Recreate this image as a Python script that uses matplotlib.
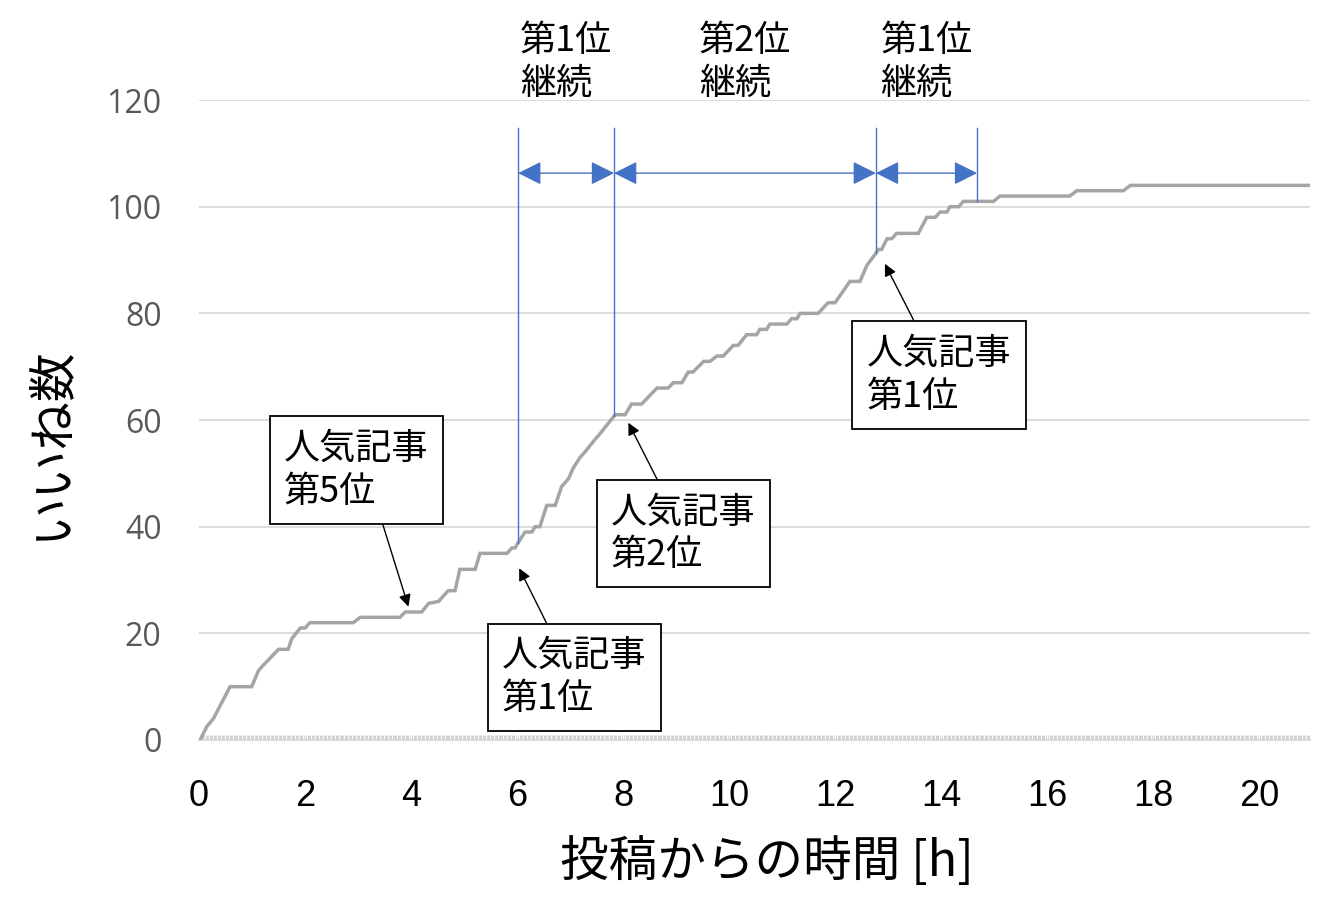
import numpy as np
import matplotlib
matplotlib.use("Agg")
import matplotlib.pyplot as plt
from matplotlib.ticker import MultipleLocator
from matplotlib.patches import FancyArrowPatch

plt.rcParams['font.family'] = ['Noto Sans CJK JP', 'DejaVu Sans']

# likes over time since posting (hours)
hours = [0.02, 0.145, 0.27, 0.585, 0.994, 1.12, 1.21, 1.50, 1.68, 1.75, 1.91, 2.00,
         2.09, 2.91, 3.04, 3.79, 3.89, 4.20, 4.33, 4.52, 4.70, 4.83, 4.92, 5.21,
         5.30, 5.81, 5.90, 5.96, 6.02, 6.15, 6.28, 6.34, 6.43, 6.56, 6.72, 6.84,
         6.97, 7.06, 7.19, 7.28, 7.44, 7.57, 7.69, 7.85, 8.04, 8.16, 8.35, 8.64,
         8.85, 8.95, 9.11, 9.23, 9.32, 9.42, 9.52, 9.64, 9.77, 9.89, 10.08, 10.17,
         10.33, 10.52, 10.58, 10.71, 10.77, 11.09, 11.18, 11.28, 11.34, 11.68, 11.87,
         12.00, 12.28, 12.47, 12.60, 12.75, 12.82, 12.88, 12.98, 13.07, 13.16, 13.57,
         13.73, 13.89, 13.98, 14.11, 14.17, 14.33, 14.42, 14.99, 15.11, 16.43, 16.56,
         17.44, 17.57, 20.96]
likes = [0, 2.5, 4, 10, 10, 13, 14, 17, 17, 19, 21, 21,
         22, 22, 23, 23, 24, 24, 25.6, 26, 28, 28, 32, 32,
         35, 35, 36, 36, 37, 39, 39, 40, 40, 44, 44, 47.5,
         49, 51, 53, 54, 56, 57.5, 59, 61, 61, 63, 63, 66,
         66, 67, 67, 69, 69, 70, 71, 71, 72, 72, 74, 74,
         76, 76, 77, 77, 78, 78, 79, 79, 80, 80, 82,
         82, 86, 86, 89, 91, 92, 92, 94, 94, 95, 95,
         98, 98, 99, 99, 100, 100, 101, 101, 102, 102, 103,
         103, 104, 104]

# times where the ranking changed
rank_times = [6.02, 7.83, 12.77, 14.68]
rank_labels = ['第1位\n継続', '第2位\n継続', '第1位\n継続']

# popular-article ranking notes: (time, likes) they point at
note_texts = ['人気記事\n第5位', '人気記事\n第1位', '人気記事\n第2位', '人気記事\n第1位']
note_points = [(3.95, 25.0), (6.04, 32.2), (8.10, 59.5), (12.94, 89.3)]
note_boxes = [(2.97, 50.6), (7.08, 11.7), (9.14, 38.7), (13.96, 68.4)]
note_relpos = [(0.65, 0.0), (0.36, 1.0), (0.37, 1.0), (0.38, 1.0)]

xticks = [0, 2, 4, 6, 8, 10, 12, 14, 16, 18, 20]
yticks = [0, 20, 40, 60, 80, 100, 120]

blue = '#4472C4'

fig = plt.figure(figsize=(13.2, 9.18), dpi=100)
ax = fig.add_axes([0.1508, 0.1939, 0.8416, 0.6971])

ax.plot(hours, likes, color='#A5A5A5', lw=2.5, solid_joinstyle='miter', zorder=3)

ax.set_xlim(0, 20.96)
ax.set_ylim(0, 120)
ax.set_xticks(xticks)
ax.set_yticks(yticks)
ax.xaxis.set_minor_locator(MultipleLocator(0.025))
ax.grid(axis='y', color='#D9D9D9', lw=1.3)
ax.set_axisbelow(True)
for s in ['top', 'right', 'left']:
    ax.spines[s].set_visible(False)
ax.spines['bottom'].set_color('#D9D9D9')
ax.spines['bottom'].set_linewidth(1.3)

ax.tick_params(axis='x', which='major', length=0, pad=28, labelsize=26, labelcolor='black')
ax.tick_params(axis='x', which='minor', direction='in', length=3.5, width=0.5, color='#BFBFBF')
ax.tick_params(axis='y', length=0, pad=27, labelsize=23, labelcolor='#595959')
for lab in ax.get_xticklabels():
    lab.set_family('Liberation Sans')
for lab in ax.get_yticklabels():
    lab.set_family('Open Sans')

ax.set_xlabel('投稿からの時間 [h]', fontsize=35)
ax.set_ylabel('いいね数', fontsize=35)
ax.xaxis.set_label_coords(0.511, -0.19)
ax.yaxis.set_label_coords(-0.134, 0.464)
ax.xaxis.label.set_va('center')
ax.yaxis.label.set_va('center')

# vertical markers at rank changes, from the curve up to the arrow row
arrow_y = 106.3
for t in rank_times:
    ax.plot([t, t], [np.interp(t, hours, likes), 114.8], color=blue, lw=1.0, zorder=4)

for i in range(len(rank_labels)):
    a, b = rank_times[i], rank_times[i + 1]
    arr = FancyArrowPatch((a, arrow_y), (b, arrow_y),
                          arrowstyle='<|-|>,head_length=1.0,head_width=0.5',
                          mutation_scale=14.4, color=blue, lw=1.0,
                          shrinkA=0, shrinkB=0, zorder=4)
    ax.add_patch(arr)
    ax.text((a + b) / 2, 127.1, rank_labels[i], ha='center', va='center',
            multialignment='left', fontsize=26, linespacing=1.26, clip_on=False)

for txt, pt, box, rp in zip(note_texts, note_points, note_boxes, note_relpos):
    ax.annotate(txt, xy=pt, xytext=box, ha='center', va='center',
                multialignment='left', fontsize=26, linespacing=1.24,
                bbox=dict(boxstyle='square,pad=0.4', fc='white', ec='black', lw=1.3),
                arrowprops=dict(arrowstyle='-|>', color='black', lw=1.0,
                                mutation_scale=18, shrinkA=0, shrinkB=0, relpos=rp),
                zorder=5)

fig.savefig('out.png', dpi=100)
